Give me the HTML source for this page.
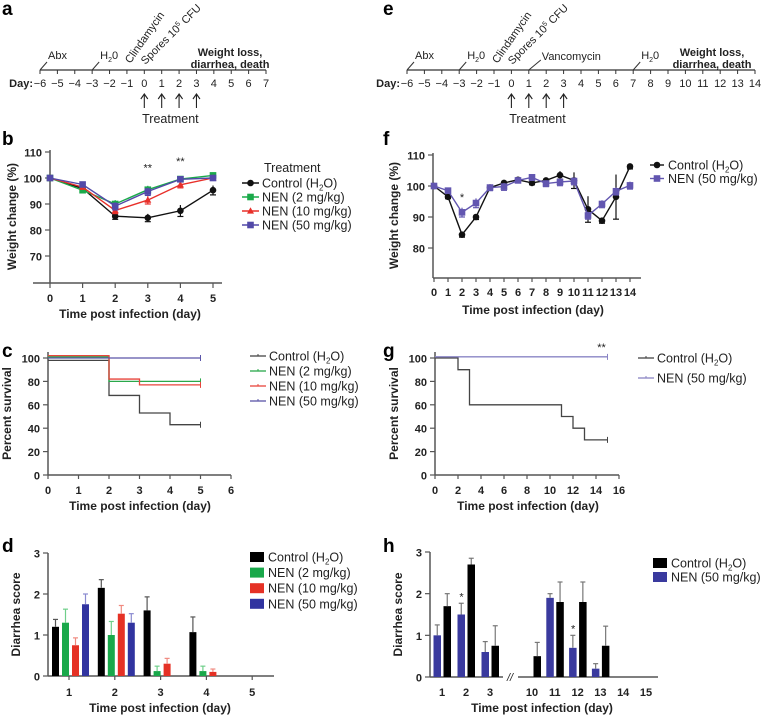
<!DOCTYPE html>
<html><head><meta charset="utf-8">
<style>
html,body{margin:0;padding:0;background:#fff;}
svg{display:block;font-family:"Liberation Sans",sans-serif;}
.tk{font-size:11px;font-weight:bold;fill:#222;}
.tt{font-size:12px;font-weight:bold;fill:#222;}
.lg{font-size:12.5px;fill:#222;}
.pl{font-size:19px;font-weight:bold;fill:#000;}
.tl{font-size:11px;fill:#222;}
</style></head>
<body>
<svg id="fig" width="761" height="716" viewBox="0 0 761 716" xmlns="http://www.w3.org/2000/svg"></svg>
<script>
// ---------- DATA ----------
const bDays = [0,1,2,3,4,5];
const bCtrl = [100,96,85.3,84.7,87.4,95.3];
const bCtrlErr = [0.5,0.8,1.2,1.5,2.2,1.8];
const b2 = [100,95.3,90,95.5,99.6,101];
const b2Err = [0.4,0.8,1.5,1.5,0.8,0.5];
const b10 = [100,96.5,87.5,91.5,97.4,100];
const b10Err = [0.4,0.8,1.2,1.5,1.2,0.8];
const b50 = [100,97.5,89.2,94.8,99.5,100];
const b50Err = [0.4,0.6,1.5,1.5,0.8,0.6];
const bTicksY = [70,80,90,100,110];

const cTicksX = [0,1,2,3,4,5,6];
const cTicksY = [0,20,40,60,80,100];
const cCtrlT = [0,2,3,4,5];
const cCtrlV = [98,68,53,43,43];
const c2T = [0,2,5];
const c2V = [101,80,80];
const c10T = [0,2,3,5];
const c10V = [102,82,77,77];
const c50T = [0,5];
const c50V = [100,100];

const dGroups = ["1","2","3","4","5"];
const dCtrl = [1.2,2.15,1.6,1.07,0];
const dCtrlErr = [0.18,0.2,0.33,0.37,0];
const d2 = [1.3,1.0,0.12,0.12,0];
const d2Err = [0.33,0.33,0.12,0.12,0];
const d10 = [0.75,1.52,0.3,0.1,0];
const d10Err = [0.18,0.2,0.13,0.07,0];
const d50 = [1.75,1.3,0,0,0];
const d50Err = [0.25,0.22,0,0,0];
const dTicksY = [0,1,2,3];

const fDays = [0,1,2,3,4,5,6,7,8,9,10,11,12,13,14];
const fCtrl = [100,96.5,84.3,90,99.5,101,102,101,101.8,103.5,101.8,92.5,88.8,96.5,106.3];
const fCtrlErr = [0.3,0.6,0.8,0.8,0.6,0.8,0.8,0.6,0.6,1.3,2.6,4.2,0.8,7.2,0.8];
const fNen = [100,98.5,91.5,94.5,99.5,99.8,101.8,102.8,100.8,101.3,101.6,90.5,94.2,98.3,100.2];
const fNenErr = [0.3,0.8,1.5,1.5,1,1.2,0.8,1,1,1.2,1.2,1.2,1.2,1.2,1.2];
const fTicksY = [80,90,100,110];

const gTicksX = [0,2,4,6,8,10,12,14,16];
const gTicksY = [0,20,40,60,80,100];
const gCtrlT = [0,2,3,11,12,13,15];
const gCtrlV = [100,90,60,50,40,30,30];
const gNenT = [0,15];
const gNenV = [101,101];

const hDays = ["1","2","3","10","11","12","13","14","15"];
const hNen = [1,1.5,0.6,0,1.9,0.7,0.2,0,0];
const hNenErr = [0.25,0.27,0.25,0,0.1,0.3,0.12,0,0];
const hCtrl = [1.7,2.7,0.75,0.5,1.8,1.8,0.75,0,0];
const hCtrlErr = [0.3,0.15,0.48,0.33,0.48,0.48,0.47,0,0];
const hTicksY = [0,1,2,3];

// ---------- HELPERS ----------
const NS = "http://www.w3.org/2000/svg";
const svg = document.getElementById("fig");
function el(tag, attrs, name, parent){
  const e = document.createElementNS(NS, tag);
  for (const k in attrs) e.setAttribute(k, attrs[k]);
  
  
  (parent||svg).appendChild(e);
  return e;
}
function txt(x,y,s,cls,name,extra){
  const a = Object.assign({x:x,y:y,class:cls}, extra||{});
  const t = el("text", a, name);
  t.innerHTML = s;
  return t;
}
function line(x1,y1,x2,y2,stroke,w,name){
  return el("line",{x1:x1,y1:y1,x2:x2,y2:y2,stroke:stroke,"stroke-width":w},name);
}
function lin(d0,d1,r0,r1){ return v => r0 + (v-d0)*(r1-r0)/(d1-d0); }
const AX = "#555";

// ---------- TIMELINES ----------
function timeline(x0, x1, d0, d1, y, pfx){
  const X = lin(d0,d1,x0,x1);
  line(x0,y,x1,y,"#333",1.2,pfx+"-timeline-axis");
  for(let d=d0; d<=d1; d++){
    line(X(d),y,X(d),y+4,"#333",1,pfx+"-timeline-tick");
    txt(X(d),y+17,d<0?("\u2212"+(-d)):String(d),"tl",pfx+"-day-label",{"text-anchor":"middle"});
  }
  txt(X(d0)-7,y+17,"Day:","tl",pfx+"-day-title",{"font-weight":"bold","text-anchor":"end"});
  for(let d=0; d<=3; d++){
    line(X(d),y+25,X(d),y+38,"#222",1.1,pfx+"-treatment-arrow");
    el("path",{d:"M"+(X(d)-3.5)+","+(y+29)+" L"+X(d)+","+(y+24)+" L"+(X(d)+3.5)+","+(y+29),fill:"none",stroke:"#222","stroke-width":1.1},pfx+"-treatment-arrowhead");
  }
  txt(X(1.5),y+53,"Treatment","lg",pfx+"-treatment-label",{"text-anchor":"middle","font-size":"13.5"});
  line(X(-6),y,X(-6)+7,y-8,"#333",1,pfx+"-abx-pointer");
  txt(X(-6)+8,y-11,"Abx","tl",pfx+"-abx-label");
  line(X(-3),y,X(-3)+7,y-8,"#333",1,pfx+"-h2o-pointer");
  txt(X(-3)+8,y-11,"H<tspan font-size='7' dy='3'>2</tspan><tspan dy='-3'>0</tspan>","tl",pfx+"-h2o-label");
  txt(X(-0.8),y-6,"Clindamycin","tl",pfx+"-clindamycin-label",{transform:"rotate(-55 "+X(-0.8)+" "+(y-6)+")"});
  txt(X(0)+1,y-5,"Spores 10<tspan font-size='7' dy='-4'>5</tspan><tspan dy='4'> CFU</tspan>","tl",pfx+"-spores-label",{transform:"rotate(-45 "+(X(0)+1)+" "+(y-5)+")"});
  return X;
}
txt(2,15,"a","pl","panel-a-letter");
const XA = timeline(40,266,-6,7,70,"a");
txt(230,56,"Weight loss,","tl","a-outcome-line1",{"text-anchor":"middle","font-weight":"bold"});
txt(230,68,"diarrhea, death","tl","a-outcome-line2",{"text-anchor":"middle","font-weight":"bold"});

txt(383,15,"e","pl","panel-e-letter");
const XE = timeline(407,755,-6,14,70,"e");
line(XE(1),70,XE(1)+12,60,"#333",1,"e-vanco-pointer");
txt(XE(1)+13,60,"Vancomycin","tl","e-vancomycin-label");
line(XE(7),70,XE(7)+7,62,"#333",1,"e-h2o2-pointer");
txt(XE(7)+8,59,"H<tspan font-size='7' dy='3'>2</tspan><tspan dy='-3'>0</tspan>","tl","e-h2o2-label");
txt(712,56,"Weight loss,","tl","e-outcome-line1",{"text-anchor":"middle","font-weight":"bold"});
txt(712,68,"diarrhea, death","tl","e-outcome-line2",{"text-anchor":"middle","font-weight":"bold"});

// ---------- AXES ----------
function yAxis(x, Y, ticks, yTop, yBot, pfx, title, titleX){
  line(x,yTop,x,yBot,AX,1.5,pfx+"-y-axis");
  ticks.forEach(t=>{
    line(x-5,Y(t),x,Y(t),AX,1.2,pfx+"-y-tick");
    txt(x-8,Y(t)+4.5,String(t),"tk",pfx+"-y-tick-label",{"text-anchor":"end","font-size":"12.5"});
  });
  const cy=(yTop+yBot)/2;
  txt(titleX,cy,title,"tt",pfx+"-y-axis-title",{"text-anchor":"middle",transform:"rotate(-90 "+titleX+" "+cy+")"});
}
function xAxisTitle(x,y,pfx){
  txt(x,y,"Time post infection (day)","tt",pfx+"-x-axis-title",{"text-anchor":"middle","font-size":"12.5"});
}
function errBar(x,y0,y1,color,name){
  line(x,y0,x,y1,color,1.2,name);
  line(x-3,y1,x+3,y1,color,1.2,name+"-cap");
}
function marker(shape,x,y,color,name){
  if(shape==="circle") el("circle",{cx:x,cy:y,r:3.3,fill:color},name);
  else if(shape==="square") el("rect",{x:x-3.3,y:y-3.3,width:6.6,height:6.6,fill:color},name);
  else el("polygon",{points:(x)+","+(y-3.8)+" "+(x-3.5)+","+(y+2.6)+" "+(x+3.5)+","+(y+2.6),fill:color},name);
}
function series(X,Y,xs,vals,errs,color,shape,pfx){
  const pts = xs.map((d,i)=>X(d)+","+Y(vals[i])).join(" ");
  el("polyline",{points:pts,fill:"none",stroke:color,"stroke-width":1.4},pfx+"-line");
  xs.forEach((d,i)=>{
    errBar(X(d),Y(vals[i]+errs[i]),Y(vals[i]-errs[i]),color,pfx+"-error-bar");
    marker(shape,X(d),Y(vals[i]),color,pfx+"-point");
  });
}

// ---------- PANEL b ----------
txt(2,145,"b","pl","panel-b-letter");
{
  const X = lin(0,5,50,213), Y = lin(70,110,256,152);
  yAxis(50,Y,bTicksY,150,283,"b","Weight change (%)",16);
  line(33,283,222,283,AX,1.5,"b-x-axis");
  bDays.forEach(d=>{ line(X(d),283,X(d),288,AX,1.2,"b-x-tick"); txt(X(d),302,String(d),"tk","b-x-tick-label",{"text-anchor":"middle","font-size":"12.5"}); });
  xAxisTitle(130,318,"b");
  series(X,Y,bDays,bCtrl,bCtrlErr,"#111","circle","b-control");
  series(X,Y,bDays,b2,b2Err,"#1aaa4a","square","b-nen-2");
  series(X,Y,bDays,b10,b10Err,"#e8302a","triangle","b-nen-10");
  series(X,Y,bDays,b50,b50Err,"#5249a8","square","b-nen-50");
  txt(X(3),Y(102.5),"**","tl","b-significance-day3",{"text-anchor":"middle","font-size":"12"});
  txt(X(4),Y(105),"**","tl","b-significance-day4",{"text-anchor":"middle","font-size":"12"});
  txt(264,172,"Treatment","lg","b-legend-title");
  const lg=[["Control (H<tspan font-size='8' dy='3'>2</tspan><tspan dy='-3'>O)</tspan>","#111","circle"],["NEN (2 mg/kg)","#1aaa4a","square"],["NEN (10 mg/kg)","#e8302a","triangle"],["NEN (50 mg/kg)","#5249a8","square"]];
  lg.forEach((l,i)=>{ const y=183+i*14; line(242,y,259,y,l[1],1.4,"b-legend-line"); marker(l[2],250.5,y,l[1],"b-legend-marker"); txt(262,y+4.5,l[0],"lg","b-legend-entry"); });
}

// ---------- step helper ----------
function steps(X,Y,ts,vs,color,pfx,w){
  let d="M"+X(ts[0])+","+Y(vs[0]);
  for(let i=1;i<ts.length;i++){ d+=" H"+X(ts[i])+" V"+Y(vs[i]); }
  el("path",{d:d,fill:"none",stroke:color,"stroke-width":w||1.3},pfx+"-survival-curve");
  const xe=X(ts[ts.length-1]), ye=Y(vs[vs.length-1]);
  line(xe,ye-3,xe,ye+3,color,1,pfx+"-censor-tick");
}
function legendLines(x,y0,dy,items,pfx){
  items.forEach((l,i)=>{ const y=y0+i*dy; line(x,y,x+16,y,l[1],1.3,pfx+"-legend-line"); line(x+8,y-2,x+8,y,l[1],1,pfx+"-legend-tick"); txt(x+19,y+4.5,l[0],"lg",pfx+"-legend-entry"); });
}
const CTRL_LBL = "Control (H<tspan font-size='8' dy='3'>2</tspan><tspan dy='-3'>O)</tspan>";

// ---------- PANEL c ----------
txt(2,357,"c","pl","panel-c-letter");
{
  const X = lin(0,6,48,231), Y = lin(0,100,475,358);
  yAxis(48,Y,cTicksY,352,475,"c","Percent survival",11);
  line(48,475,231,475,AX,1.5,"c-x-axis");
  cTicksX.forEach(d=>{ line(X(d),475,X(d),479,AX,1.2,"c-x-tick"); txt(X(d),494,String(d),"tk","c-x-tick-label",{"text-anchor":"middle","font-size":"12.5"}); });
  xAxisTitle(140,510,"c");
  steps(X,Y,cCtrlT,cCtrlV,"#444","c-control");
  steps(X,Y,c2T,c2V,"#2aa84a","c-nen-2");
  steps(X,Y,c10T,c10V,"#e8453c","c-nen-10");
  steps(X,Y,c50T,c50V,"#5a55a8","c-nen-50");
  legendLines(250,356,15,[[CTRL_LBL,"#444"],["NEN (2 mg/kg)","#2aa84a"],["NEN (10 mg/kg)","#e8453c"],["NEN (50 mg/kg)","#5a55a8"]],"c");
}

// ---------- bar helper ----------
function bars(X,Y,vals,errs,off,w,color,errColor,pfx){
  vals.forEach((v,i)=>{
    if(v<=0) return;
    const x=X(i)+off;
    el("rect",{x:x,y:Y(v),width:w,height:Y(0)-Y(v),fill:color},pfx+"-bar");
    if(errs[i]>0){ line(x+w/2,Y(v),x+w/2,Y(v+errs[i]),errColor,1.2,pfx+"-error-bar"); line(x+w/2-2.5,Y(v+errs[i]),x+w/2+2.5,Y(v+errs[i]),errColor,1.2,pfx+"-error-cap"); }
  });
}
function legendSq(x,y0,dy,items,pfx){
  items.forEach((l,i)=>{ const y=y0+i*dy; el("rect",{x:x,y:y-5,width:14,height:10,fill:l[1]},pfx+"-legend-swatch"); txt(x+18,y+4.5,l[0],"lg",pfx+"-legend-entry"); });
}

// ---------- PANEL d ----------
txt(2,552,"d","pl","panel-d-letter");
{
  const X = i => 69 + i*45.8, Y = lin(0,3,676,553);
  yAxis(48,Y,dTicksY,553,676,"d","Diarrhea score",20);
  line(48,676,274,676,AX,1.5,"d-x-axis");
  dGroups.forEach((g,i)=>{ line(X(i),676,X(i),680,AX,1.2,"d-x-tick"); txt(X(i),696,g,"tk","d-x-tick-label",{"text-anchor":"middle","font-size":"12.5"}); });
  xAxisTitle(160,712,"d");
  bars(X,Y,dCtrl,dCtrlErr,-17,7,"#000","#555","d-control");
  bars(X,Y,d2,d2Err,-7,7,"#19a84a","#6fcf8a","d-nen-2");
  bars(X,Y,d10,d10Err,3,7,"#e53125","#f08a80","d-nen-10");
  bars(X,Y,d50,d50Err,13,7,"#3134a0","#8a8ad0","d-nen-50");
  legendSq(250,557,15.6,[[CTRL_LBL,"#000"],["NEN (2 mg/kg)","#19a84a"],["NEN (10 mg/kg)","#e53125"],["NEN (50 mg/kg)","#3134a0"]],"d");
}

// ---------- PANEL f ----------
txt(383,145,"f","pl","panel-f-letter");
{
  const X = lin(0,14,434,630), Y = lin(80,110,248,155);
  yAxis(433,Y,fTicksY,153,278,"f","Weight change (%)",398);
  line(433,278,641,278,AX,1.5,"f-x-axis");
  fDays.forEach(d=>{ line(X(d),278,X(d),282,AX,1.2,"f-x-tick"); txt(X(d),296,String(d),"tk","f-x-tick-label",{"text-anchor":"middle","font-size":"11"}); });
  xAxisTitle(533,314,"f");
  series(X,Y,fDays,fCtrl,fCtrlErr,"#111","circle","f-control");
  series(X,Y,fDays,fNen,fNenErr,"#6256b0","square","f-nen-50");
  txt(X(2),Y(95.2),"*","tl","f-significance-day2",{"text-anchor":"middle","font-size":"13"});
  [[CTRL_LBL,"#111","circle"],["NEN (50 mg/kg)","#6256b0","square"]].forEach((l,i)=>{ const y=165+i*13.5; line(650,y,664,y,l[1],1.4,"f-legend-line"); marker(l[2],657,y,l[1],"f-legend-marker"); txt(668,y+4.5,l[0],"lg","f-legend-entry"); });
}

// ---------- PANEL g ----------
txt(383,357,"g","pl","panel-g-letter");
{
  const X = lin(0,16,435,619), Y = lin(0,100,475,358);
  yAxis(435,Y,gTicksY,352,475,"g","Percent survival",398);
  line(435,475,619,475,AX,1.5,"g-x-axis");
  gTicksX.forEach(d=>{ line(X(d),475,X(d),479,AX,1.2,"g-x-tick"); txt(X(d),494,String(d),"tk","g-x-tick-label",{"text-anchor":"middle","font-size":"12.5"}); });
  xAxisTitle(528,510,"g");
  steps(X,Y,gCtrlT,gCtrlV,"#444","g-control");
  steps(X,Y,gNenT,gNenV,"#8a84c4","g-nen-50");
  txt(X(15)-6,Y(101)-6,"**","tl","g-significance",{"text-anchor":"middle","font-size":"12"});
  legendLines(638,358,20,[[CTRL_LBL,"#444"],["NEN (50 mg/kg)","#8a84c4"]],"g");
}

// ---------- PANEL h ----------
txt(383,552,"h","pl","panel-h-letter");
{
  const pos=[442,465,490,532,555,578,601,624,646];
  const X = i => pos[0] + (i<3 ? i*24 : (pos[3]-pos[0]) + (i-3)*22.8);
  const Y = lin(0,3,677,552);
  yAxis(430,Y,hTicksY,552,677,"h","Diarrhea score",402);
  line(430,677,503,677,AX,1.5,"h-x-axis-left");
  line(518,677,658,677,AX,1.5,"h-x-axis-right");
  txt(510,681,"//","tl","h-axis-break",{"text-anchor":"middle","font-style":"italic"});
  hDays.forEach((g,i)=>{ txt(X(i),696,g,"tk","h-x-tick-label",{"text-anchor":"middle","font-size":"12.5"}); });
  xAxisTitle(542,712,"h");
  bars(X,Y,hNen,hNenErr,-8.5,7.5,"#3a3a9e","#777","h-nen-50");
  bars(X,Y,hCtrl,hCtrlErr,1.5,7.5,"#000","#777","h-control");
  txt(X(1)-4.5,Y(hNen[1]+hNenErr[1])-3,"*","tl","h-significance-day2",{"text-anchor":"middle","font-size":"13"});
  txt(X(5)-4.5,Y(hNen[5]+hNenErr[5])-3,"*","tl","h-significance-day12",{"text-anchor":"middle","font-size":"13"});
  legendSq(653,563,14,[[CTRL_LBL,"#000"],["NEN (50 mg/kg)","#3a3a9e"]],"h");
}
</script>
</body></html>
